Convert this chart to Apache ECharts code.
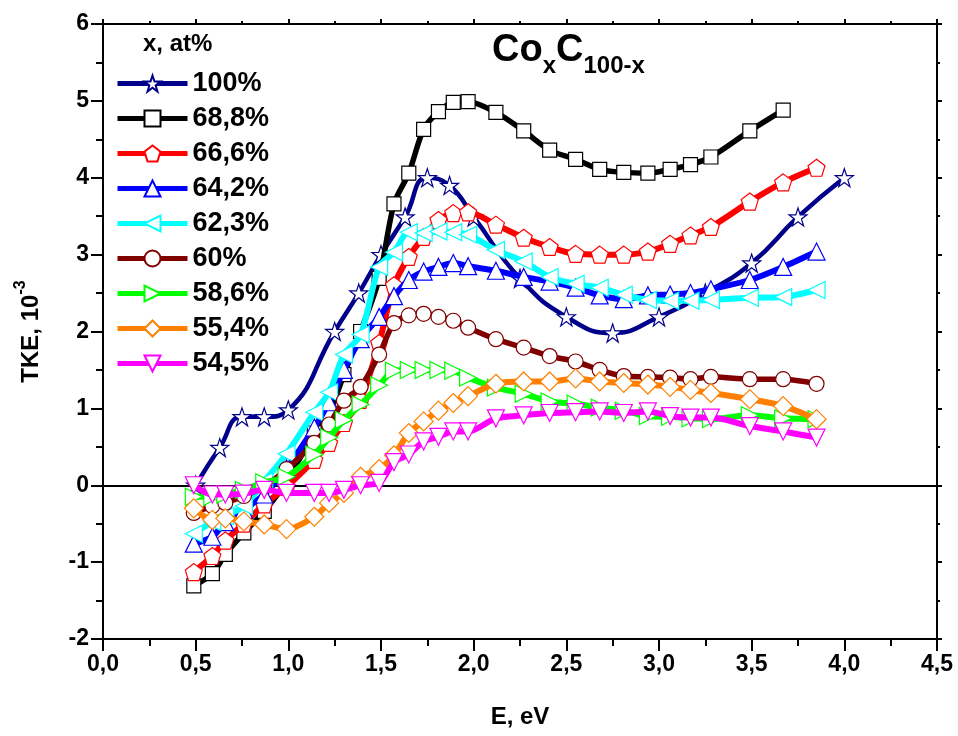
<!DOCTYPE html>
<html>
<head>
<meta charset="utf-8">
<script src="https://cdn.jsdelivr.net/npm/echarts@6/dist/echarts.min.js"></script>
<style>
html,body{margin:0;padding:0;background:#fff;}
#c{width:958px;height:736px;}
</style>
</head>
<body>
<div id="c"></div>
<script>
// ---- data ----
const E = [0.49, 0.59, 0.66, 0.76, 0.87, 0.99, 1.14, 1.22, 1.30, 1.39, 1.49, 1.57, 1.65, 1.73, 1.81, 1.89, 1.97, 2.12, 2.27, 2.41, 2.55, 2.68, 2.81, 2.94, 3.06, 3.17, 3.28, 3.49, 3.67, 3.85];
const E100 = [0.50, 0.63, 0.75, 0.87, 1.00, 1.25, 1.38, 1.50, 1.63, 1.75, 1.87, 2.00, 2.25, 2.50, 2.75, 3.00, 3.25, 3.50, 3.75, 4.00];
const tke100 = [0.00, 0.49, 0.89, 0.89, 0.98, 2.00, 2.50, 3.00, 3.49, 4.00, 3.90, 3.49, 2.69, 2.19, 1.98, 2.19, 2.50, 2.89, 3.49, 4.00];
const tke688 = [-1.31, -1.15, -0.90, -0.62, -0.34, 0.05, 0.68, 0.94, 1.44, 2.00, 2.69, 3.66, 4.06, 4.63, 4.86, 4.98, 4.99, 4.85, 4.61, 4.36, 4.24, 4.11, 4.07, 4.06, 4.11, 4.17, 4.27, 4.61, 4.88];
const tke666 = [-1.13, -0.92, -0.72, -0.50, -0.25, -0.02, 0.33, 0.55, 0.81, 1.11, 1.85, 2.60, 2.97, 3.23, 3.45, 3.54, 3.55, 3.39, 3.22, 3.10, 3.01, 3.00, 3.00, 3.04, 3.14, 3.25, 3.36, 3.69, 3.94, 4.13];
const tke642 = [-0.76, -0.67, -0.48, -0.32, -0.12, 0.22, 0.75, 1.08, 1.50, 1.90, 2.19, 2.46, 2.67, 2.78, 2.84, 2.89, 2.85, 2.79, 2.71, 2.65, 2.57, 2.47, 2.42, 2.47, 2.48, 2.50, 2.55, 2.67, 2.84, 3.04];
const tke623 = [-0.63, -0.48, -0.40, -0.27, 0.05, 0.41, 0.95, 1.21, 1.70, 1.96, 2.84, 3.03, 3.29, 3.28, 3.30, 3.29, 3.26, 3.06, 2.91, 2.71, 2.62, 2.57, 2.48, 2.41, 2.40, 2.40, 2.41, 2.44, 2.45, 2.54];
const tke60 = [-0.36, -0.27, -0.23, -0.14, -0.02, 0.21, 0.55, 0.79, 1.10, 1.28, 1.70, 2.11, 2.21, 2.23, 2.19, 2.14, 2.05, 1.90, 1.79, 1.68, 1.61, 1.50, 1.42, 1.41, 1.40, 1.38, 1.41, 1.38, 1.38, 1.32];
const tke586 = [-0.15, -0.15, -0.12, -0.06, 0.04, 0.11, 0.40, 0.62, 0.85, 1.05, 1.30, 1.49, 1.50, 1.50, 1.50, 1.49, 1.40, 1.27, 1.19, 1.09, 1.06, 1.01, 0.97, 0.90, 0.89, 0.87, 0.86, 0.91, 0.87, 0.86];
const tke554 = [-0.30, -0.45, -0.43, -0.47, -0.51, -0.57, -0.41, -0.23, -0.10, 0.11, 0.21, 0.39, 0.68, 0.83, 0.97, 1.07, 1.16, 1.32, 1.35, 1.35, 1.39, 1.35, 1.33, 1.31, 1.28, 1.24, 1.20, 1.12, 1.03, 0.86];
const tke545 = [0.00, -0.12, -0.12, -0.11, -0.06, -0.10, -0.10, -0.10, -0.06, 0.00, 0.03, 0.30, 0.40, 0.57, 0.63, 0.70, 0.70, 0.87, 0.91, 0.94, 0.95, 0.96, 0.94, 0.96, 0.90, 0.88, 0.88, 0.77, 0.70, 0.62];
const seriesNames = ['100%', '68,8%', '66,6%', '64,2%', '62,3%', '60%', '58,6%', '55,4%', '54,5%'];

// ---- styling ----
const STAR = 'path://M50,2 L61.8,36.4 L97.6,36.4 L68.6,57.6 L79.6,92 L50,70.6 L20.4,92 L31.4,57.6 L2.4,36.4 L38.2,36.4 Z';
const PENT = 'path://M50,4 L96,37.5 L78.5,92 L21.5,92 L4,37.5 Z';
const specs = [
  {x: E100, y: tke100, color: '#00008B', symbol: STAR, size: 18, rot: 0, smooth: 0.5, lw: 4.5},
  {x: E, y: tke688, color: '#000000', symbol: 'rect', size: 14, rot: 0, smooth: 0.3, lw: 5.5},
  {x: E, y: tke666, color: '#FF0000', symbol: PENT, size: 17, rot: 0, smooth: 0.3, lw: 6},
  {x: E, y: tke642, color: '#0000FF', symbol: 'triangle', size: 17, rot: 0, smooth: 0.3, lw: 6},
  {x: E, y: tke623, color: '#00FFFF', symbol: 'triangle', size: 17, rot: 90, smooth: 0.3, lw: 6},
  {x: E, y: tke60, color: '#800000', symbol: 'circle', size: 15, rot: 0, smooth: 0.3, lw: 5.5},
  {x: E, y: tke586, color: '#00FF00', symbol: 'triangle', size: 17, rot: -90, smooth: 0.3, lw: 6},
  {x: E, y: tke554, color: '#FF8000', symbol: 'diamond', size: 19, rot: 0, smooth: 0.3, lw: 6},
  {x: E, y: tke545, color: '#FF00FF', symbol: 'triangle', size: 17, rot: 180, smooth: 0.3, lw: 6}
];

const sans = "'Liberation Sans', Arial, sans-serif";

const series = specs.map((s, i) => ({
  name: seriesNames[i],
  type: 'line',
  xAxisIndex: 0,
  yAxisIndex: 0,
  data: s.x.map((v, k) => [v, s.y[k]]),
  smooth: s.smooth,
  symbol: s.symbol,
  symbolSize: s.size,
  symbolRotate: s.rot,
  showAllSymbol: true,
  lineStyle: {color: s.color, width: s.lw},
  itemStyle: {color: '#ffffff', borderColor: s.color, borderWidth: 1.2},
  emphasis: {disabled: true},
  animation: false,
  z: 2 + i
}));

// zero line
series[0].markLine = {
  silent: true,
  symbol: 'none',
  label: {show: false},
  lineStyle: {color: '#000', width: 2, type: 'solid'},
  data: [{yAxis: 0}]
};

const fmt = v => v.toFixed(1).replace('.', ',');

const option = {
  backgroundColor: '#ffffff',
  animation: false,
  grid: {left: 103, right: 21, top: 24, bottom: 97, containLabel: false},
  title: {
    text: '{a|Co}{b|x}{a|C}{b|100-x}',
    left: 487,
    top: 27,
    textStyle: {
      rich: {
        a: {fontFamily: sans, fontWeight: 'bold', fontSize: 38, color: '#000', lineHeight: 46, verticalAlign: 'top'},
        b: {fontFamily: sans, fontWeight: 'bold', fontSize: 24, color: '#000', lineHeight: 46, verticalAlign: 'bottom'}
      }
    }
  },
  graphic: [{
    type: 'text',
    left: 143,
    top: 32,
    style: {text: 'x, at%', font: 'bold 24px ' + sans, fill: '#000'}
  }],
  legend: {
    orient: 'vertical',
    left: 110,
    top: 65,
    itemWidth: 70,
    itemHeight: 20,
    itemGap: 8,
    lineStyle: {width: 5},
    textStyle: {fontFamily: sans, fontWeight: 'bold', fontSize: 27, color: '#000', lineHeight: 26},
    data: seriesNames
  },
  xAxis: [{
    type: 'value',
    position: 'bottom',
    min: 0, max: 4.5, interval: 0.5,
    name: 'E, eV',
    nameLocation: 'middle',
    nameGap: 66,
    nameTextStyle: {fontFamily: sans, fontWeight: 'bold', fontSize: 24, color: '#000'},
    axisLine: {show: true, onZero: false, lineStyle: {color: '#000', width: 2}},
    axisTick: {show: true, length: 12, lineStyle: {color: '#000', width: 2}},
    minorTick: {show: true, splitNumber: 2, length: 7, lineStyle: {color: '#000', width: 2}},
    axisLabel: {fontFamily: sans, fontWeight: 'bold', fontSize: 23, color: '#000', margin: 14, formatter: fmt},
    splitLine: {show: false}
  }, {
    type: 'value',
    position: 'top',
    min: 0, max: 4.5, interval: 0.5,
    axisLine: {show: true, onZero: false, lineStyle: {color: '#000', width: 2}},
    axisTick: {show: true, length: 5, lineStyle: {color: '#000', width: 2}},
    minorTick: {show: true, splitNumber: 2, length: 3, lineStyle: {color: '#000', width: 2}},
    axisLabel: {show: false},
    splitLine: {show: false}
  }],
  yAxis: [{
    type: 'value',
    position: 'left',
    min: -2, max: 6, interval: 1,
    name: '{a|TKE, 10}{b|-3}',
    nameLocation: 'middle',
    nameGap: 60,
    nameRotate: 90,
    nameTextStyle: {
      rich: {
        a: {fontFamily: sans, fontWeight: 'bold', fontSize: 24, color: '#000', lineHeight: 30, verticalAlign: 'bottom'},
        b: {fontFamily: sans, fontWeight: 'bold', fontSize: 16, color: '#000', lineHeight: 30, verticalAlign: 'top'}
      }
    },
    axisLine: {show: true, onZero: false, lineStyle: {color: '#000', width: 2}},
    axisTick: {show: true, length: 12, lineStyle: {color: '#000', width: 2}},
    minorTick: {show: true, splitNumber: 2, length: 7, lineStyle: {color: '#000', width: 2}},
    axisLabel: {fontFamily: sans, fontWeight: 'bold', fontSize: 23, color: '#000', margin: 14},
    splitLine: {show: false}
  }, {
    type: 'value',
    position: 'right',
    min: -2, max: 6, interval: 1,
    axisLine: {show: true, onZero: false, lineStyle: {color: '#000', width: 2}},
    axisTick: {show: true, length: 5, lineStyle: {color: '#000', width: 2}},
    minorTick: {show: true, splitNumber: 2, length: 3, lineStyle: {color: '#000', width: 2}},
    axisLabel: {show: false},
    splitLine: {show: false}
  }],
  series: series
};

const chart = echarts.init(document.getElementById('c'), null, {renderer: 'canvas'});
chart.setOption(option);
</script>
</body>
</html>
